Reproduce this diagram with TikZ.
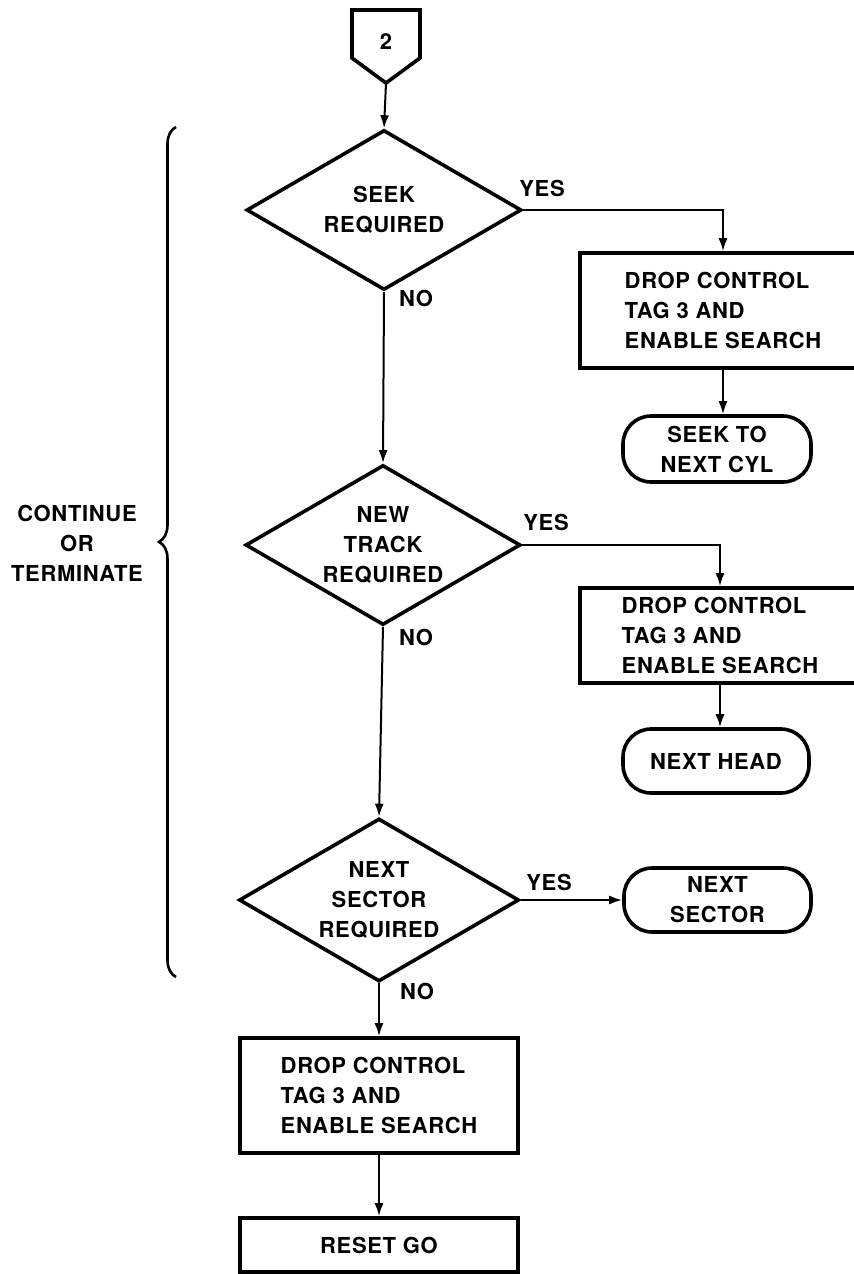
\documentclass[tikz,border=0pt]{standalone}
\usepackage{fontspec}
\setmainfont{TeX Gyre Heros}[LetterSpace=3]
\usetikzlibrary{shapes.geometric,arrows.meta,decorations.pathreplacing}

\begin{document}
\begin{tikzpicture}[x=0.5pt,y=-0.5pt,
  font=\fontsize{11}{15}\selectfont\bfseries,
  decision/.style={diamond, draw, line width=1.8pt, inner sep=0pt, aspect=1.7, align=center, minimum width=137.5pt, minimum height=80pt},
  procbox/.style={rectangle, draw, line width=1.8pt, align=left, inner sep=0pt},
  terminal/.style={rectangle, draw, rounded corners=14pt, line width=1.8pt, align=center, minimum width=94pt, minimum height=33pt},
  flow/.style={line width=1pt, -{Latex[length=6.5pt,width=4.5pt]}},
  lbl/.style={inner sep=0pt, align=center}]
\useasboundingbox (0,0) rectangle (853,1274);

\node[lbl] (two) at (386,42) {2};
\draw[line width=1.8pt] (352,10) -- (420,10) -- (420,58) -- (386,83) -- (352,58) -- cycle;
\coordinate (twotip) at (386,83);

\node[decision] (seek) at (384,210) {SEEK\\REQUIRED};
\node[procbox, minimum width=143pt, minimum height=57.5pt] (drop1) at (723,310.5) {DROP CONTROL\\TAG 3 AND\\ENABLE SEARCH};
\node[terminal] (cyl) at (717,449) {SEEK TO\\NEXT CYL};

\node[decision] (track) at (383,545) {NEW\\TRACK\\REQUIRED};
\node[procbox, minimum width=140pt, minimum height=47.5pt] (drop2) at (720,635.5) {DROP CONTROL\\TAG 3 AND\\ENABLE SEARCH};
\node[terminal, minimum width=93pt, minimum height=32pt] (head) at (716,761) {NEXT HEAD};

\node[decision, minimum width=140pt, minimum height=81.5pt] (sector) at (379,900) {NEXT\\SECTOR\\REQUIRED};
\node[terminal, minimum width=93.5pt, minimum height=32pt] (nsector) at (717.5,900) {NEXT\\SECTOR};
\node[procbox, minimum width=139pt, minimum height=57.5pt] (drop3) at (379,1095.5) {DROP CONTROL\\TAG 3 AND\\ENABLE SEARCH};
\node[procbox, minimum width=139pt, minimum height=27pt] (reset) at (379,1245) {RESET GO};

\node[lbl] (yes1) at (542,188) {YES};
\node[lbl] (yes2) at (546,522) {YES};
\node[lbl] (yes3) at (549,882) {YES};
\node[lbl] (no1) at (416,298) {NO};
\node[lbl] (no2) at (416,637) {NO};
\node[lbl] (no3) at (417,991) {NO};
\node[lbl] (cont) at (77,543) {CONTINUE\\OR\\TERMINATE};

\draw[flow] (twotip) -- (seek.north);
\draw[flow] (seek.east) -| (drop1.north);
\draw[flow] (drop1.south) -- (drop1.south |- cyl.north);
\draw[flow] (seek.south) -- (track.north);
\draw[flow] (track.east) -| (drop2.north);
\draw[flow] (drop2.south) -- (drop2.south |- head.north);
\draw[flow] (track.south) -- (sector.north);
\draw[flow] (sector.east) -- (nsector.west);
\draw[flow] (sector.south) -- (drop3.north);
\draw[flow] (drop3.south) -- (reset.north);

\draw[line width=1.3pt, decorate, decoration={brace, amplitude=8.5pt, aspect=0.512}] (176,977) -- (176,127);
\end{tikzpicture}
\end{document}
